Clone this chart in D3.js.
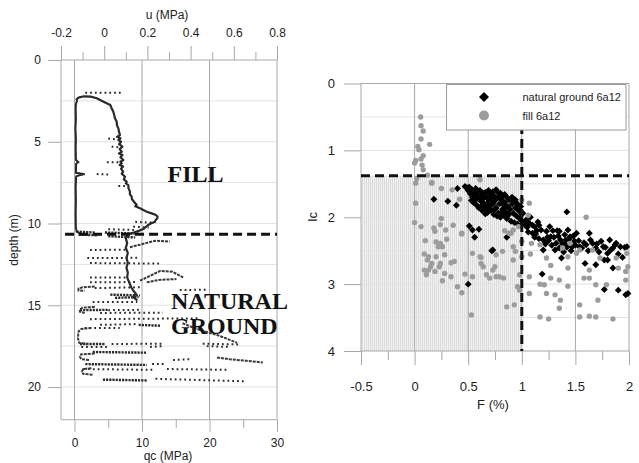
<!DOCTYPE html>
<html><head><meta charset="utf-8">
<script src="https://cdn.jsdelivr.net/npm/d3@7"></script>
<style>
body{margin:0;background:#fff}
text{font-family:"Liberation Sans",Arial,sans-serif;fill:#222}
.big{font-family:"Liberation Serif","Times New Roman",serif;font-weight:bold;font-size:24px;fill:#111}
</style>
</head><body><svg id="c" width="639" height="463"></svg>
<script>
// ---------------- LEFT CHART DATA ----------------
const uTicks = [-0.2, 0, 0.2, 0.4, 0.6, 0.8];
const uMinor = [-0.1, 0.1, 0.3, 0.5, 0.7];
const qcTicks = [0, 10, 20, 30];
const qcMinor = [5, 15, 25];
const depthTicks = [0, 5, 10, 15, 20];
const depthGrid = [2.5, 5, 7.5, 10, 12.5, 15, 17.5, 20];
const boundaryDepth = 10.66;

// pore pressure trace in fill: [depth (m), u (MPa)]
const uTrace = [[2.45,-0.125],[2.7,-0.131],[3.0,-0.132],[3.6,-0.131],[4.2,-0.133],[4.8,-0.131],[5.4,-0.132],
 [6.1,-0.131],[6.25,-0.12],[6.35,-0.13],[6.9,-0.131],[6.98,-0.09],[7.05,-0.115],[7.12,-0.13],[7.8,-0.132],
 [8.6,-0.131],[9.4,-0.132],[10.2,-0.131],[10.5,-0.128],[10.62,-0.11]];

// cone resistance trace: [depth (m), qc (MPa)]
const qcTrace = [[2.45,0.2],[2.3,0.6],[2.22,1.4],[2.24,2.4],[2.34,3.3],[2.55,4.3],[2.75,5.3],[2.95,5.5],[3.16,5.75],
 [3.4,5.9],[3.57,6.0],[3.77,6.25],[4.0,6.3],[4.18,6.5],[4.4,6.6],[4.59,6.74],[4.7,6.3],[4.79,6.8],[4.9,6.5],
 [5.0,6.9],[5.15,6.6],[5.3,7.1],[5.45,6.7],[5.61,7.0],[5.72,6.6],[5.81,7.1],[5.95,6.8],[6.12,7.23],[6.22,6.8],
 [6.32,7.0],[6.42,6.7],[6.52,7.2],[6.65,6.9],[6.83,7.2],[6.95,7.0],[7.14,7.48],[7.3,7.3],[7.44,7.73],[7.55,7.6],
 [7.65,7.98],[7.85,8.0],[8.05,8.22],[8.2,8.2],[8.36,8.47],[8.5,8.5],[8.67,8.81],[8.87,9.21],[8.95,9.0],[9.07,9.7],
 [9.18,10.2],[9.28,10.69],[9.38,11.43],[9.48,12.07],[9.58,12.3],[9.68,12.27],[9.8,12.0],[9.89,11.93],[10.0,11.3],
 [10.09,10.93],[10.2,10.6],[10.34,10.2],[10.45,9.5],[10.55,8.8],[10.65,8.0],[10.9,7.6],[11.2,7.8],[11.5,7.6],
 [11.8,7.9],[12.1,7.7],[12.4,7.9],[12.7,7.7],[13.0,7.9],[13.3,7.8],[13.6,8.1],[13.9,8.4],[14.1,8.7],[14.3,9.1],
 [14.5,8.7],[14.7,9.3]];

// solid streaks in natural ground: [depth, qc] polylines
const solidStreaks = [
 [[11.45,8.2],[11.3,9.7],[11.15,11.0],[11.05,12.0],[11.1,14.1]],
 [[13.5,9.7],[13.2,11.2],[12.9,12.7],[12.95,14.5],[13.3,16.1]],
 [[13.6,10.7],[13.45,12.5],[13.4,15.1]],
 [[16.1,16.0],[16.35,17.5],[16.5,18.5],[16.65,19.7],[16.8,21.0],[17.0,22.3],[17.3,24.1]],
 [[18.2,21.1],[18.3,23.0],[18.4,25.5],[18.5,27.9]],
 [[13.85,3.0],[13.9,1.2],[13.98,0.6],[14.1,0.6],[14.12,1.5]],
 [[15.1,3.0],[15.15,1.2],[15.25,0.8],[15.4,0.8],[15.47,1.5]],
 [[16.39,2.5],[16.45,1.0],[16.6,0.6],[17.0,0.5],[17.3,0.7],[17.37,2.0]],
 [[17.95,3.0],[18.0,1.0],[18.15,0.8],[18.3,1.0],[18.35,2.2]],
 [[18.85,2.5],[18.9,1.3],[19.05,1.1],[19.2,1.3],[19.25,2.8]]
];
// dense dotted rows: [depth0, qc0, depth1, qc1]
const denseRows = [[10.5,0.3,10.55,3.0],[10.68,0.6,10.72,3.5],[10.55,4.5,10.62,9.5],[10.78,5.0,10.85,9.0],
 [14.35,5.3,14.4,9.7],[14.55,6.0,14.5,9.5],[17.37,0.8,17.37,4.5],[17.86,2.7,17.9,10.7],[18.6,1.6,18.65,10.7],
 [19.55,4.2,19.6,10.7],[16.2,9.5,16.25,12.7],[15.3,0.8,15.28,5.0]];
// sparse dotted rows: [depth0, qc0, depth1, qc1]
const sparseRows = [[2.0,1.6,2.0,7.0],[4.8,5.0,4.85,6.0],[5.3,5.5,5.35,6.8],[6.25,4.8,6.25,7.0],[6.98,3.3,7.0,5.0],
 [7.7,6.5,7.7,7.5],[9.9,9.0,9.95,11.6],[10.2,8.7,10.25,11.0],[10.35,5.0,10.4,9.0],
 [11.62,2.3,11.6,7.8],[12.11,1.9,12.1,9.3],[12.42,2.3,12.45,12.7],[13.3,2.3,13.3,7.8],[13.6,2.3,13.58,9.3],
 [13.95,3.0,13.9,9.7],[14.07,15.6,14.05,19.6],[14.8,2.7,14.8,9.3],[15.3,5.0,15.28,9.7],[15.47,3.8,15.45,13.1],
 [15.85,2.3,15.8,18.6],[16.2,3.8,16.15,9.5],[16.39,1.5,16.39,6.7],[17.37,5.5,17.35,13.0],[17.35,19.0,17.4,24.5],
 [17.55,1.0,17.55,4.8],[17.55,11.2,17.5,13.1],[17.5,19.6,17.55,23.0],[18.35,14.6,18.3,17.1],[18.6,11.5,18.6,13.5],
 [18.9,1.3,18.95,11.6],[18.9,13.7,18.95,22.6],[19.5,12.0,19.65,25.3]];

// ---------------- RIGHT CHART DATA ----------------
const fTicks = [-0.5, 0, 0.5, 1, 1.5, 2];
const fMinor = [-0.25, 0.25, 0.75, 1.25, 1.75];
const icTicks = [0, 1, 2, 3, 4];
const icGrid = [0.5, 1, 1.5, 2, 2.5, 3, 3.5];
const icLimit = 1.38, fLimit = 1.0;
const seriesNames = ["natural ground 6a12", "fill 6a12"];

// [F (%), Ic]
const naturalGround = [[0.47,1.54],[0.49,1.56],[0.5,1.6],[0.51,1.55],[0.52,1.65],[0.53,1.58],[0.54,1.7],[0.55,1.62],
 [0.55,1.78],[0.56,1.66],[0.57,1.57],[0.57,1.74],[0.58,1.82],[0.59,1.62],[0.6,1.7],[0.6,1.86],[0.61,1.6],[0.62,1.76],
 [0.63,1.66],[0.63,1.9],[0.64,1.72],[0.65,1.8],[0.66,1.63],[0.66,1.86],[0.67,1.7],[0.68,1.93],[0.69,1.76],[0.7,1.65],
 [0.7,1.84],[0.71,1.72],[0.72,1.9],[0.73,1.8],[0.74,1.68],[0.74,1.96],[0.75,1.75],[0.76,1.59],[0.76,1.86],[0.77,1.62],
 [0.78,1.7],[0.78,1.94],[0.79,1.8],[0.8,1.64],[0.8,2.0],[0.81,1.74],[0.82,1.88],[0.83,1.68],[0.83,1.97],[0.84,1.78],
 [0.85,1.92],[0.86,1.7],[0.86,2.02],[0.87,1.84],[0.88,1.74],[0.88,1.96],[0.89,1.88],[0.9,1.72],[0.9,2.06],[0.91,1.8],
 [0.92,1.94],[0.93,1.76],[0.93,2.08],[0.94,1.86],[0.95,1.98],[0.96,1.8],[0.96,2.1],[0.97,1.9],[0.98,2.02],[0.99,1.84],
 [0.99,2.12],[1.0,1.95],[1.0,2.05],[0.58,1.68],[0.62,1.84],[0.68,1.82],[0.72,1.74],[0.75,1.88],[0.82,1.8],[0.85,1.84],
 [0.64,1.64],[0.53,1.75],[0.66,1.95],[0.7,1.9],[0.77,1.98],[0.81,1.92],[0.73,1.62],[0.69,1.6],[0.84,1.66],[0.91,1.7],
 [0.94,1.74],[0.18,1.73],[0.31,1.76],[0.39,1.82],[0.4,1.57],[0.51,2.13],[0.54,2.19],[0.6,2.18],[0.56,2.3],[0.72,2.5],
 [0.86,2.3],[0.5,3.0],[1.42,1.92],[1.19,2.85],[0.73,2.49],
 [1.01,1.94],[1.04,2.04],[1.07,2.09],[1.12,2.14],[1.15,2.07],[1.18,2.19],[1.1,2.24],[1.23,2.21],[1.26,2.14],[1.27,2.29],
 [1.2,2.34],[1.32,2.39],[1.2,2.49],[1.31,2.49],[1.35,2.46],[1.37,2.61],[1.35,2.21],[1.4,2.26],[1.41,2.34],[1.45,2.29],
 [1.44,2.41],[1.49,2.36],[1.43,2.19],[1.51,2.24],[1.54,2.44],[1.6,2.41],[1.63,2.24],[1.66,2.39],[1.69,2.46],[1.69,2.71],
 [1.76,2.44],[1.8,2.54],[1.82,2.34],[1.85,2.46],[1.88,2.39],[1.85,2.76],[1.96,2.45],[1.77,3.08],[1.9,3.09],[1.97,3.16],
 [1.99,3.14],[1.59,2.69],[1.05,2.15],[1.08,2.0],[1.13,2.25],[1.16,2.32],[1.22,2.4],[1.24,2.3],[1.28,2.42],[1.3,2.3],
 [1.33,2.2],[1.36,2.34],[1.38,2.4],[1.39,2.52],[1.42,2.45],[1.46,2.5],[1.48,2.28],[1.5,2.42],[1.53,2.35],[1.56,2.46],
 [1.58,2.38],[1.62,2.5],[1.64,2.34],[1.7,2.4],[1.72,2.52],[1.74,2.36],[1.78,2.45],[1.8,2.64],[1.83,2.49],[1.87,2.41],
 [1.9,2.55],[1.92,2.44],[1.94,2.6],[1.98,2.44],[1.77,2.64],[1.12,2.3],[1.02,2.1],[1.06,2.22],[1.1,2.12],[1.14,2.2],
 [1.16,2.12],[1.25,2.35],[1.29,2.2],[1.34,2.28],[1.4,2.4],[1.44,2.33],[1.47,2.44]];

const fill = [[0.056,0.50],[0.06,0.63],[0.08,0.71],[0.06,0.83],[0.14,0.91],[0.03,0.94],[0.04,0.99],[0.08,1.08],
 [0.06,1.13],[0.01,1.15],[0.0,1.19],[0.07,1.22],[0.08,1.29],[0.12,1.37],[0.02,1.42],[0.16,1.48],[0.01,1.49],[0.25,1.57],
 [0.35,1.59],[0.42,1.73],[0.61,1.44],[0.01,1.79],[0.0,2.08],[0.06,2.14],[0.25,2.02],[0.24,2.11],[0.36,2.12],[0.18,2.16],
 [0.19,2.21],[0.29,2.19],[0.44,2.25],[0.10,2.35],[0.20,2.37],[0.24,2.39],[0.30,2.33],[0.22,2.44],[0.26,2.44],[0.09,2.55],
 [0.13,2.59],[0.20,2.59],[0.28,2.56],[0.12,2.64],[0.16,2.69],[0.15,2.74],[0.24,2.69],[0.34,2.68],[0.37,2.66],[0.09,2.79],
 [0.13,2.79],[0.19,2.81],[0.23,2.74],[0.28,2.84],[0.11,2.86],[0.26,2.95],[0.34,2.89],[0.47,2.85],[0.40,3.04],[0.44,3.13],
 [0.54,2.89],[0.53,3.46],[0.54,2.54],[0.61,2.59],[1.60,2.0],[1.07,1.79],[1.06,1.97],[0.84,2.20],[0.90,2.24],[0.94,2.51],
 [1.0,2.36],[1.09,2.39],[1.08,2.55],[1.0,2.59],[1.23,2.61],[1.27,2.72],[1.43,2.76],[1.63,2.79],[1.43,2.59],[1.54,2.49],
 [1.73,2.61],[1.88,2.61],[1.98,2.54],[1.99,2.74],[1.90,2.76],[1.97,2.81],[0.98,2.86],[1.07,2.89],[1.17,3.0],[1.21,3.01],
 [1.07,3.14],[1.27,2.91],[1.35,2.94],[1.43,3.03],[1.31,3.16],[1.36,3.24],[1.35,3.36],[1.54,3.31],[1.58,2.91],[1.63,2.91],
 [1.69,3.01],[1.71,3.24],[1.79,3.01],[1.97,2.94],[0.86,3.34],[0.93,3.31],[1.17,3.49],[1.25,3.52],[1.54,3.49],[1.63,3.48],
 [1.69,3.49],[1.85,3.52],[1.23,3.14],[0.64,2.74],[0.73,2.79],[0.76,2.89],[0.83,2.91],[0.67,2.86],[0.70,2.91],[0.75,2.74],
 [0.92,2.64],[1.17,2.41],[1.38,2.46],[1.51,2.54],[1.66,2.49],[1.45,2.39],[1.0,1.74],[0.62,2.6],[0.76,2.56],[0.82,2.51],
 [0.92,2.44],[0.88,2.24],[0.92,2.19],[0.97,2.14],[0.62,2.69],[0.79,2.89],[0.96,3.04],[0.98,3.09],[0.16,1.49],[0.44,2.24]];

// ---------------- DRAW ----------------
const svg = d3.select("#c");
const GRID = "#a8a8a8", LIGHT = "#e2e2e2", INK = "#2a2a2a";

// LEFT
const xq = d3.scaleLinear().domain([-2, 30]).range([61, 277]);
const xu = d3.scaleLinear().domain([-0.2, 0.8]).range([61, 277]);
const yd = d3.scaleLinear().domain([0, 22]).range([60, 419.7]);
const gl = svg.append("g");

gl.selectAll(".hg").data(depthGrid).join("line")
  .attr("x1", xq(-2)).attr("x2", xq(30)).attr("y1", d => yd(d)).attr("y2", d => yd(d))
  .attr("stroke", LIGHT).attr("stroke-width", 1);
gl.selectAll(".vg").data([-2, 0, 10, 20, 30]).join("line")
  .attr("x1", d => xq(d)).attr("x2", d => xq(d)).attr("y1", yd(0)).attr("y2", yd(22))
  .attr("stroke", GRID).attr("stroke-width", 1);
gl.selectAll(".hb").data([0, 22]).join("line")
  .attr("x1", xq(-2)).attr("x2", xq(30)).attr("y1", d => yd(d)).attr("y2", d => yd(d))
  .attr("stroke", GRID).attr("stroke-width", 1);

function styleAxis(g, size) {
  g.select(".domain").remove();
  g.selectAll(".tick line").attr("stroke", GRID);
  g.selectAll(".tick text").attr("font-size", size).attr("fill", "#222")
   .style("font-family", '"Liberation Sans",Arial,sans-serif');
}
const fmt = d => String(d);
gl.append("g").attr("transform", `translate(0,${yd(0)})`)
  .call(d3.axisTop(xu).tickValues(uTicks).tickFormat(fmt).tickSize(14).tickPadding(9))
  .call(g => styleAxis(g, 12));
gl.append("g").attr("transform", `translate(0,${yd(0)})`)
  .call(d3.axisTop(xu).tickValues(uMinor).tickFormat("").tickSize(8))
  .call(g => styleAxis(g, 12));
gl.append("g").attr("transform", `translate(0,${yd(22)})`)
  .call(d3.axisBottom(xq).tickValues(qcTicks).tickFormat(fmt).tickSize(12).tickPadding(7))
  .call(g => styleAxis(g, 12));
gl.append("g").attr("transform", `translate(0,${yd(22)})`)
  .call(d3.axisBottom(xq).tickValues(qcMinor).tickFormat("").tickSize(8))
  .call(g => styleAxis(g, 12));
gl.append("g").attr("transform", `translate(${xq(-2)},0)`)
  .call(d3.axisLeft(yd).tickValues(depthTicks).tickFormat(fmt).tickSize(13).tickPadding(7))
  .call(g => styleAxis(g, 12));

gl.append("text").attr("x", 167).attr("y", 19).attr("text-anchor", "middle").attr("font-size", 12).text("u (MPa)");
gl.append("text").attr("x", 168).attr("y", 460).attr("text-anchor", "middle").attr("font-size", 12).text("qc (MPa)");
gl.append("text").attr("transform", "translate(18,240) rotate(-90)").attr("text-anchor", "middle")
  .attr("font-size", 12).text("depth (m)");

// traces
const lineQ = d3.line().x(d => xq(d[1])).y(d => yd(d[0]));
const lineU = d3.line().x(d => xu(d[1])).y(d => yd(d[0]));
const marks = gl.append("g");
marks.selectAll(".sp").data(sparseRows).join("line")
  .attr("x1", d => xq(d[1])).attr("y1", d => yd(d[0])).attr("x2", d => xq(d[3])).attr("y2", d => yd(d[2]))
  .attr("stroke", INK).attr("stroke-width", 2).attr("stroke-dasharray", "1.8,3");
marks.selectAll(".dn").data(denseRows).join("line")
  .attr("x1", d => xq(d[1])).attr("y1", d => yd(d[0])).attr("x2", d => xq(d[3])).attr("y2", d => yd(d[2]))
  .attr("stroke", INK).attr("stroke-width", 2.4).attr("stroke-dasharray", "2.2,1");
marks.selectAll(".ss").data(solidStreaks).join("path")
  .attr("d", lineQ).attr("fill", "none").attr("stroke", "#3a3a3a").attr("stroke-width", 2)
  .attr("stroke-dasharray", "3,1");
marks.append("path").datum(uTrace).attr("d", lineU).attr("fill", "none")
  .attr("stroke", INK).attr("stroke-width", 2);
marks.append("path").datum(qcTrace).attr("d", lineQ).attr("fill", "none")
  .attr("stroke", INK).attr("stroke-width", 2.2).attr("stroke-linejoin", "round");

gl.append("line").attr("x1", xq(-1.4)).attr("x2", xq(30)).attr("y1", yd(boundaryDepth)).attr("y2", yd(boundaryDepth))
  .attr("stroke", "#111").attr("stroke-width", 3).attr("stroke-dasharray", "9,5");

gl.append("text").attr("class", "big").attr("x", 167.5).attr("y", 182).text("FILL");
gl.append("text").attr("class", "big").attr("x", 171).attr("y", 308.5).text("NATURAL");
gl.append("text").attr("class", "big").attr("x", 171).attr("y", 333.5).text("GROUND");

// RIGHT
const xF = d3.scaleLinear().domain([-0.5, 2]).range([361, 629]);
const yI = d3.scaleLinear().domain([0, 4]).range([83.5, 351]);
const gr = svg.append("g");

const defs = svg.append("defs");
const pat = defs.append("pattern").attr("id", "hatch").attr("patternUnits", "userSpaceOnUse")
  .attr("width", 2).attr("height", 4);
pat.append("rect").attr("width", 2).attr("height", 4).attr("fill", "#f2f2f2");
pat.append("line").attr("x1", 0.5).attr("x2", 0.5).attr("y1", 0).attr("y2", 4).attr("stroke", "#dcdcdc").attr("stroke-width", 1);

gr.append("rect").attr("x", xF(-0.5)).attr("y", yI(icLimit)).attr("width", xF(fLimit) - xF(-0.5))
  .attr("height", yI(4) - yI(icLimit)).attr("fill", "url(#hatch)");

gr.selectAll(".hg").data(icGrid).join("line")
  .attr("x1", xF(-0.5)).attr("x2", xF(2)).attr("y1", d => yI(d)).attr("y2", d => yI(d))
  .attr("stroke", LIGHT);
gr.selectAll(".vg").data(fTicks).join("line")
  .attr("x1", d => xF(d)).attr("x2", d => xF(d)).attr("y1", yI(0)).attr("y2", yI(4))
  .attr("stroke", GRID);
gr.selectAll(".hb").data([0, 4]).join("line")
  .attr("x1", xF(-0.5)).attr("x2", xF(2)).attr("y1", d => yI(d)).attr("y2", d => yI(d))
  .attr("stroke", GRID);

gr.append("g").attr("transform", `translate(0,${yI(4)})`)
  .call(d3.axisBottom(xF).tickValues(fTicks).tickFormat(fmt).tickSize(14).tickPadding(17))
  .call(g => styleAxis(g, 13));
gr.append("g").attr("transform", `translate(0,${yI(4)})`)
  .call(d3.axisBottom(xF).tickValues(fMinor).tickFormat("").tickSize(9))
  .call(g => styleAxis(g, 13));
gr.append("g").attr("transform", `translate(${xF(-0.5)},0)`)
  .call(d3.axisLeft(yI).tickValues(icTicks).tickFormat(fmt).tickSize(17).tickPadding(9))
  .call(g => styleAxis(g, 13));

gr.append("text").attr("x", 493).attr("y", 409).attr("text-anchor", "middle").attr("font-size", 13).text("F (%)");
gr.append("text").attr("transform", "translate(317,217) rotate(-90)").attr("text-anchor", "middle")
  .attr("font-size", 13).text("Ic");

const diamond = d3.symbol().type(d3.symbolSquare).size(24);
gr.append("g").selectAll("path").data(naturalGround).join("path")
  .attr("d", diamond)
  .attr("transform", d => `translate(${xF(d[0])},${yI(d[1])}) rotate(45)`)
  .attr("fill", "#000");
gr.append("g").selectAll("circle").data(fill).join("circle")
  .attr("cx", d => xF(d[0])).attr("cy", d => yI(d[1])).attr("r", 2.7).attr("fill", "#9c9c9c");

gr.append("line").attr("x1", xF(-0.5)).attr("x2", xF(2)).attr("y1", yI(icLimit)).attr("y2", yI(icLimit))
  .attr("stroke", "#111").attr("stroke-width", 3).attr("stroke-dasharray", "9,5");
gr.append("line").attr("x1", xF(fLimit)).attr("x2", xF(fLimit)).attr("y1", yI(0.2)).attr("y2", yI(4))
  .attr("stroke", "#111").attr("stroke-width", 3).attr("stroke-dasharray", "9,5");

// legend
const lg = gr.append("g");
lg.append("rect").attr("x", 446.5).attr("y", 84.5).attr("width", 179.5).attr("height", 45.5)
  .attr("fill", "#fff").attr("stroke", "#999");
lg.append("path").attr("d", d3.symbol().type(d3.symbolSquare).size(50))
  .attr("transform", "translate(484,97) rotate(45)").attr("fill", "#000");
lg.append("circle").attr("cx", 484).attr("cy", 115.5).attr("r", 5).attr("fill", "#9c9c9c");
lg.selectAll("text").data(seriesNames).join("text")
  .attr("x", 522.5).attr("y", (d, i) => 101 + i * 18.5).attr("font-size", 11).text(d => d);
</script>
</body></html>
